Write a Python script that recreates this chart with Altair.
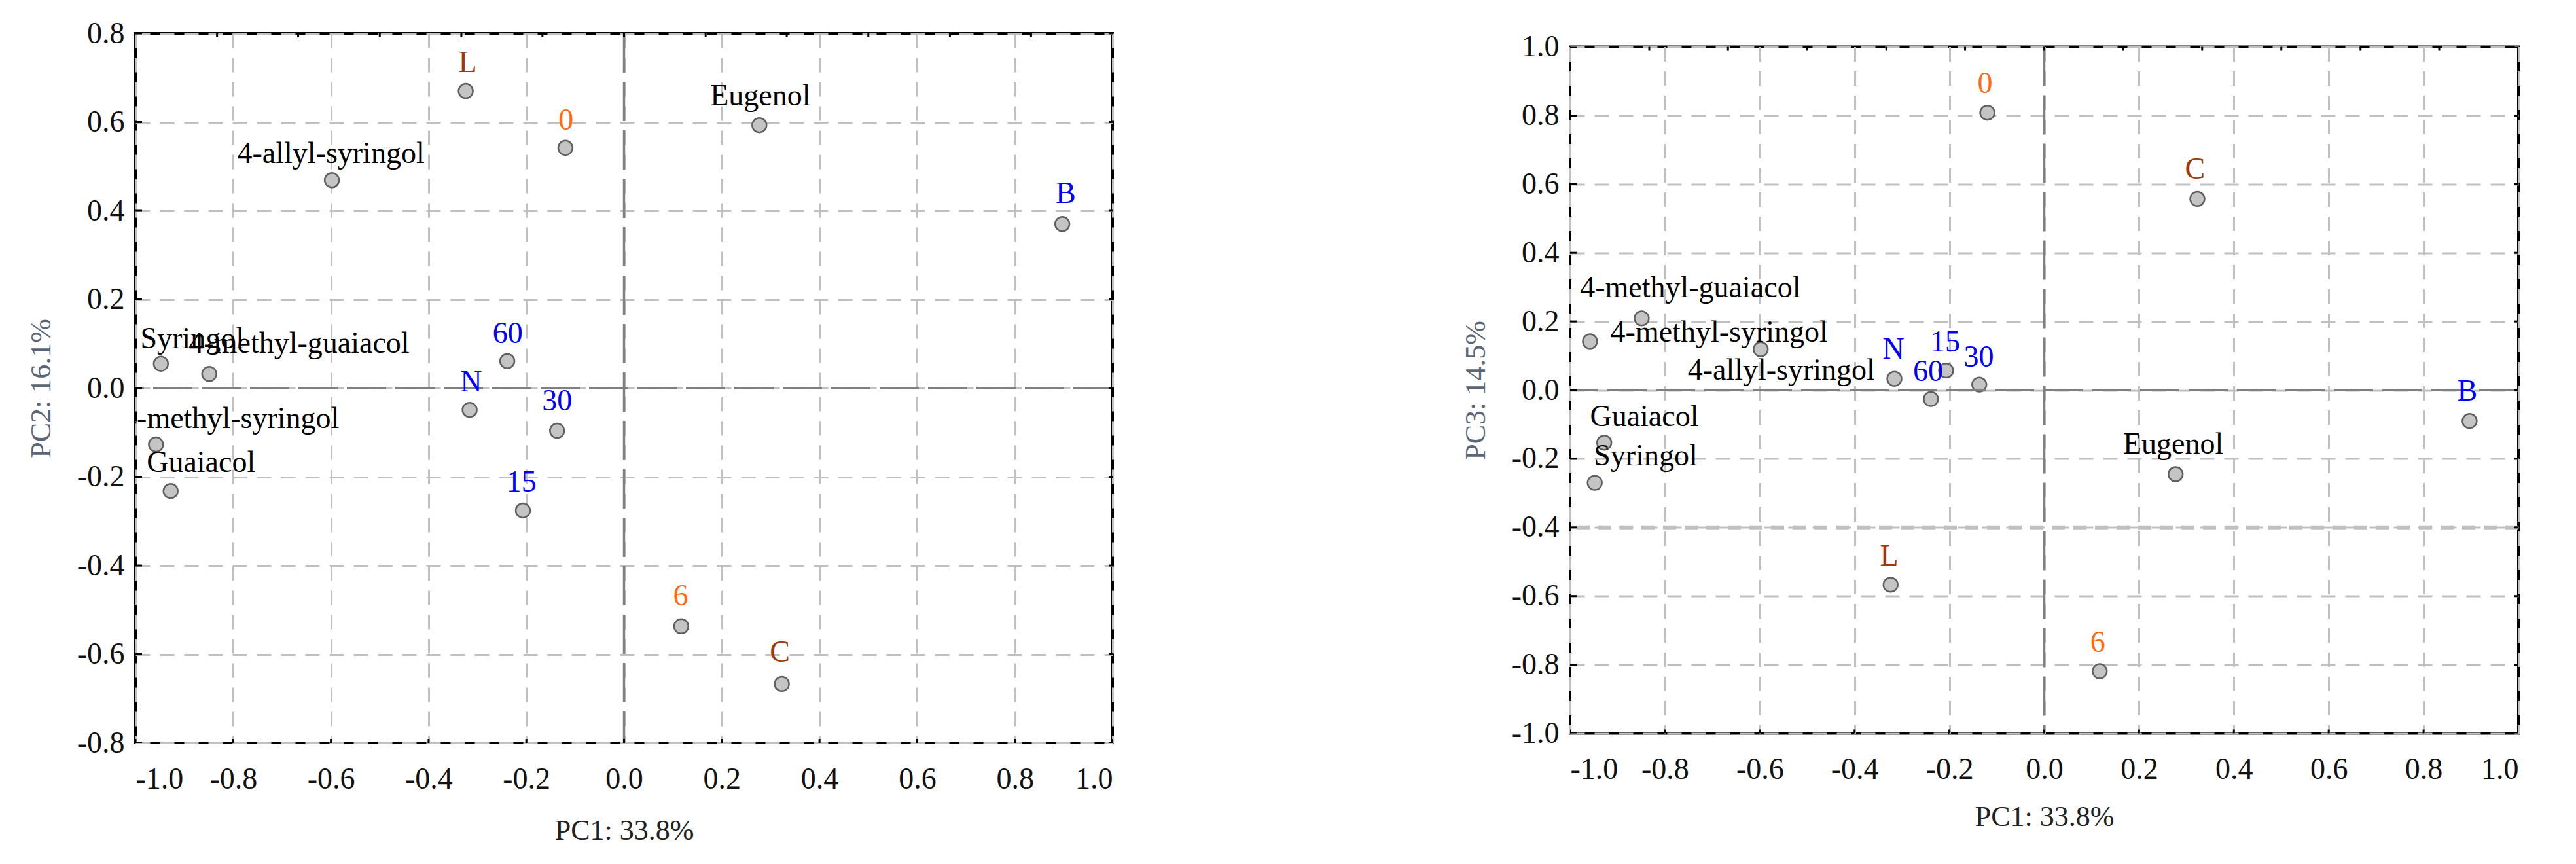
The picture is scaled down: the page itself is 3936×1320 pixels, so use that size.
import altair as alt
import pandas as pd

# ---------------- data ----------------
names = ["0", "6", "15", "30", "60", "N", "B", "L", "C",
         "Guaiacol", "4-methyl-guaiacol", "Syringol", "4-methyl-syringol",
         "4-allyl-syringol", "Eugenol"]
groups = ["early", "early", "series", "series", "series", "series", "series",
          "treat", "treat",
          "compound", "compound", "compound", "compound", "compound", "compound"]
pc1 = [-0.120, 0.117, -0.207, -0.137, -0.239, -0.316, 0.897, -0.324, 0.323,
       -0.928, -0.849, -0.948, -0.958, -0.598, 0.277]
pc2 = [0.542, -0.537, -0.276, -0.096, 0.061, -0.049, 0.370, 0.670, -0.667,
       -0.232, 0.032, 0.055, -0.127, 0.469, 0.593]
pc3 = [0.808, -0.819, 0.057, 0.016, -0.026, 0.033, -0.090, -0.567, 0.557,
       -0.153, 0.209, -0.270, 0.142, 0.119, -0.245]

# label anchor positions (data units) and anchoring
left_lab_x = [-0.119, 0.116, -0.210, -0.137, -0.238, -0.313, 0.904, -0.320, 0.319,
              -0.977, -0.891, -0.990, -1.028, -0.600, 0.279]
left_lab_y = [0.603, -0.470, -0.212, -0.029, 0.123, 0.013, 0.439, 0.734, -0.596,
              -0.169, 0.101, 0.111, -0.070, 0.529, 0.659]
left_lab_anchor = ["center"] * 9 + ["left", "left", "left", "left", "center", "center"]

right_lab_x = [-0.125, 0.113, -0.209, -0.138, -0.245, -0.318, 0.892, -0.327, 0.318,
               -0.958, -0.979, -0.950, -0.915, -0.752, 0.272]
right_lab_y = [0.893, -0.735, 0.140, 0.095, 0.054, 0.119, -0.003, -0.485, 0.643,
               -0.079, 0.298, -0.192, 0.167, 0.058, -0.158]
right_lab_anchor = ["center"] * 9 + ["left", "left", "left", "left", "left", "center"]

x_ticks = [-1.0, -0.8, -0.6, -0.4, -0.2, 0.0, 0.2, 0.4, 0.6, 0.8, 1.0]
y_ticks_pc2 = [-0.8, -0.6, -0.4, -0.2, 0.0, 0.2, 0.4, 0.6, 0.8]
y_ticks_pc3 = [-1.0, -0.8, -0.6, -0.4, -0.2, 0.0, 0.2, 0.4, 0.6, 0.8, 1.0]
top_minor_ticks = [-0.833, -0.667, -0.5, -0.333, -0.167, 0.0,
                   0.167, 0.333, 0.5, 0.667, 0.833]
zero_lines = [0.0]
pc3_heavy_grid = [-0.4]

group_domain = ["early", "series", "treat", "compound"]

FONT = "Liberation Serif"
LABEL_EXPR = "(datum.value < 0 ? '-' : '') + format(abs(datum.value), '.1f')"


def panel(ycol, ytitle, ydomain, yticks, lab_x, lab_y, lab_anchor, colors,
          width, height, xtitle_pad, heavy=None):
    df = pd.DataFrame({"name": names, "group": groups, "pc1": pc1,
                       ycol: pc2 if ycol == "pc2" else pc3,
                       "lx": lab_x, "ly": lab_y, "anchor": lab_anchor})
    xs = alt.Scale(domain=[-1, 1], nice=False, zero=False)
    ys = alt.Scale(domain=ydomain, nice=False, zero=False)
    xaxis = alt.Axis(values=x_ticks, title="PC1: 33.8%", grid=True,
                     gridColor="#c0c0c0", gridDash=[22, 15], gridWidth=3,
                     ticks=False, domain=False, labelExpr=LABEL_EXPR,
                     labelFont=FONT, labelFontSize=46, labelColor="#111111",
                     labelPadding=33, titleFont=FONT, titleFontSize=44,
                     titleFontWeight="normal", titleColor="#222222",
                     titlePadding=xtitle_pad)
    yaxis = alt.Axis(values=yticks, title=ytitle, grid=True,
                     gridColor="#c0c0c0", gridDash=[22, 15], gridWidth=3,
                     ticks=False, domain=False, labelExpr=LABEL_EXPR,
                     labelFont=FONT, labelFontSize=46, labelColor="#111111",
                     labelPadding=17, titleFont=FONT, titleFontSize=44,
                     titleFontWeight="normal", titleColor="#5a6678",
                     titlePadding=32)

    def X(field):
        return alt.X(field, scale=xs, axis=xaxis)

    def Y(field):
        return alt.Y(field, scale=ys, axis=yaxis)

    base = alt.Chart(df)
    pts = base.mark_circle(size=480, fill="#c4c4c4", stroke="#5f5f5f",
                           strokeWidth=2.5, opacity=1).encode(
        x=X("pc1:Q"), y=Y(f"{ycol}:Q"))
    color = alt.Color("group:N", scale=alt.Scale(domain=group_domain, range=colors),
                      legend=None)
    txt_c = base.transform_filter(alt.datum.anchor == "center").mark_text(
        align="center", baseline="middle", font=FONT, fontSize=46, clip=True).encode(
        x=X("lx:Q"), y=Y("ly:Q"), text="name:N", color=color)
    txt_l = base.transform_filter(alt.datum.anchor == "left").mark_text(
        align="left", baseline="middle", font=FONT, fontSize=46, clip=True).encode(
        x=X("lx:Q"), y=Y("ly:Q"), text="name:N", color=color)
    zdf = pd.DataFrame({"v": zero_lines})
    zv = alt.Chart(zdf).mark_rule(color="#808080", strokeWidth=3.5,
                                  strokeDash=[60, 14]).encode(x=X("v:Q"))
    zh = alt.Chart(zdf).mark_rule(color="#808080", strokeWidth=3.5,
                                  strokeDash=[60, 14]).encode(y=Y("v:Q"))
    layers = [zv, zh]
    if heavy:
        hv = alt.Chart(pd.DataFrame({"v": heavy})).mark_rule(
            color="#c0c0c0", strokeWidth=6, strokeDash=[20, 13]).encode(y=Y("v:Q"))
        layers.append(hv)
    xt = pd.DataFrame({"t": x_ticks})
    yt = pd.DataFrame({"t": yticks})
    tt = pd.DataFrame({"t": top_minor_ticks})
    tick_kw = dict(color="black", thickness=3, clip=True, opacity=1)
    left_t = alt.Chart(yt).mark_tick(orient="horizontal", size=20, **tick_kw).encode(
        x=alt.value(0), y=Y("t:Q"))
    right_t = alt.Chart(yt).mark_tick(orient="horizontal", size=12, **tick_kw).encode(
        x=alt.value(width), y=Y("t:Q"))
    bottom_t = alt.Chart(xt).mark_tick(orient="vertical", size=12, **tick_kw).encode(
        y=alt.value(height), x=X("t:Q"))
    top_t = alt.Chart(tt).mark_tick(orient="vertical", size=12, **tick_kw).encode(
        y=alt.value(0), x=X("t:Q"))
    return alt.layer(pts, *layers, txt_c, txt_l, left_t, right_t, bottom_t, top_t
                     ).properties(width=width, height=height)


left = panel("pc2", "PC2: 16.1%", [-0.8, 0.8], y_ticks_pc2,
             left_lab_x, left_lab_y, left_lab_anchor,
             ["#ff6a10", "#0000ff", "#9a3a0c", "#000000"], 1493, 1084, 34)
right = panel("pc3", "PC3: 14.5%", [-1.0, 1.0], y_ticks_pc3,
              right_lab_x, right_lab_y, right_lab_anchor,
              ["#ff6a10", "#0000ff", "#b00000", "#000000"], 1449, 1049, 28,
              heavy=pc3_heavy_grid)

chart = alt.hconcat(left, right, spacing=527, center=True).properties(
    padding={"left": 31, "top": 18, "right": 5, "bottom": 5},
    background="white",
).configure_view(stroke="black", strokeWidth=4)

chart.save("out.html", embed_options={"renderer": "svg", "actions": False})
